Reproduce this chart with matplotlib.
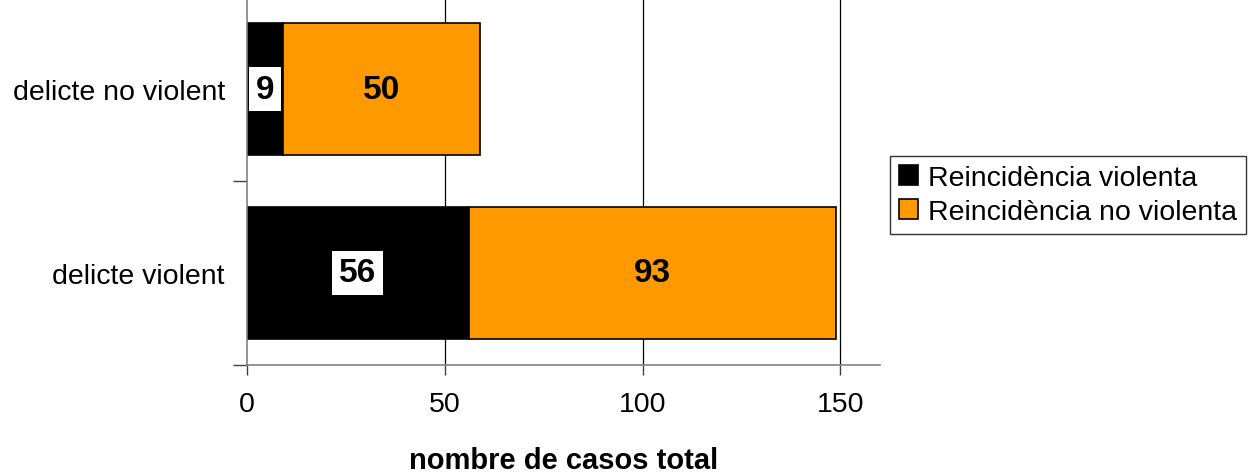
import numpy as np
import matplotlib
matplotlib.use("Agg")
import matplotlib.pyplot as plt

plt.rcParams['font.family'] = ['Liberation Sans', 'DejaVu Sans']

# data
categories = ['delicte violent', 'delicte no violent']
violenta = [56, 9]
no_violenta = [93, 50]
series_names = ['Reincidència violenta', 'Reincidència no violenta']
x_ticks = [0, 50, 100, 150]

fig = plt.figure(figsize=(12.57, 4.77), dpi=100)
ax = fig.add_axes([247 / 1257, 1 - 366 / 477, (880 - 247) / 1257, 368 / 477])

y = np.arange(len(categories))
h = 0.72

# vertical gridlines behind the bars
for t in x_ticks[1:]:
    ax.axvline(t, color='black', lw=0.9, zorder=0)

ax.barh(y, violenta, height=h, color='black', edgecolor='black', lw=1.2,
        label=series_names[0], zorder=2)
ax.barh(y, no_violenta, left=violenta, height=h, color='#FF9900',
        edgecolor='black', lw=1.2, label=series_names[1], zorder=2)

# value labels
for i in range(len(categories)):
    ax.text(violenta[i] / 2, y[i], str(violenta[i]), ha='center', va='center',
            fontsize=24, fontweight='bold', zorder=3,
            bbox=dict(boxstyle='square,pad=0.2', fc='white', ec='none'))
    ax.text(violenta[i] + no_violenta[i] / 2, y[i], str(no_violenta[i]),
            ha='center', va='center', fontsize=24, fontweight='bold', zorder=3)

ax.set_xlim(0, 160)
ax.set_ylim(-0.5, 1.5)
ax.set_xticks(x_ticks)
ax.set_xticklabels([str(t) for t in x_ticks])
ax.set_yticks(y)
ax.set_yticklabels(categories)
ax.set_yticks([-0.5, 0.5, 1.5], minor=True)
ax.tick_params(axis='y', which='major', length=0, pad=16, labelsize=20.5)
ax.tick_params(axis='y', which='minor', length=10, color='#404040', width=1)
ax.tick_params(axis='x', length=7, width=1, color='#404040', pad=12, labelsize=20.5)

for s in ['top', 'right']:
    ax.spines[s].set_visible(False)
ax.spines['left'].set_color('#808080')
ax.spines['bottom'].set_color('#808080')
ax.spines['left'].set_linewidth(1.2)
ax.spines['bottom'].set_linewidth(1.2)

ax.set_xlabel('nombre de casos total', fontsize=21, fontweight='bold', va='center')
ax.xaxis.set_label_coords(0.5, -95 / 368)

fig.legend(loc='upper left', bbox_to_anchor=(890 / 1257, 1 - 157 / 477),
           fontsize=20.5, frameon=True, fancybox=False, edgecolor='black',
           handlelength=0.7, handleheight=0.7, handletextpad=0.35,
           borderpad=0.3, labelspacing=0.3, borderaxespad=0)

fig.savefig('out.png', dpi=100)
